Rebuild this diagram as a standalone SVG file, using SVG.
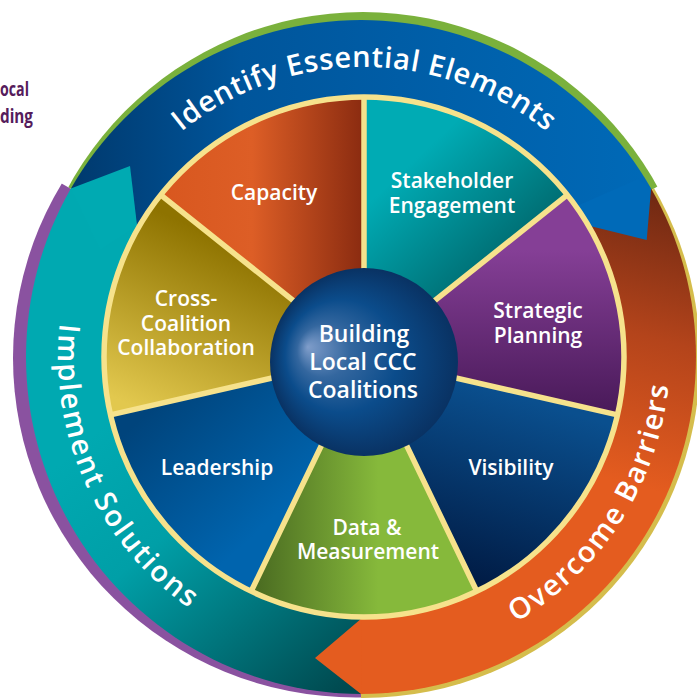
<svg xmlns="http://www.w3.org/2000/svg" width="697" height="698" viewBox="0 0 697 698">
<defs>
<style>
.seg{font-family:"Open Sans","Liberation Sans",sans-serif;font-weight:600;font-size:21px;fill:#fff;text-anchor:middle}
.ctr{font-family:"Open Sans","Liberation Sans",sans-serif;font-weight:600;font-size:23px;fill:#fff;text-anchor:middle}
.ring{font-family:"Open Sans","Liberation Sans",sans-serif;font-weight:600;font-size:29px;fill:#fff}
.side{font-family:"Open Sans","Liberation Sans",sans-serif;font-weight:700;font-size:20px;fill:#561c5c}
.spoke{stroke:#f6e28c;stroke-width:5.5;fill:none}
</style>
<linearGradient id="gBlue" gradientUnits="userSpaceOnUse" x1="60" y1="0" x2="660" y2="0">
<stop offset="0" stop-color="#00376a"/><stop offset="0.3" stop-color="#00559b"/><stop offset="1" stop-color="#006ab8"/>
</linearGradient>
<linearGradient id="gOrange" gradientUnits="userSpaceOnUse" x1="650" y1="185" x2="575" y2="470">
<stop offset="0" stop-color="#6c2712"/><stop offset="0.5" stop-color="#b4441b"/><stop offset="1" stop-color="#e45c1f"/>
</linearGradient>
<linearGradient id="gTeal" gradientUnits="userSpaceOnUse" x1="110" y1="420" x2="340" y2="690">
<stop offset="0" stop-color="#00a9b1"/><stop offset="0.35" stop-color="#009fa7"/><stop offset="1" stop-color="#004a50"/>
</linearGradient>
<linearGradient id="gCap" gradientUnits="userSpaceOnUse" x1="160" y1="0" x2="364" y2="0">
<stop offset="0" stop-color="#d8571f"/><stop offset="0.45" stop-color="#dd5e26"/><stop offset="1" stop-color="#8a2b10"/>
</linearGradient>
<linearGradient id="gStake" gradientUnits="userSpaceOnUse" x1="400" y1="130" x2="545" y2="285">
<stop offset="0.15" stop-color="#00abb4"/><stop offset="1" stop-color="#00575b"/>
</linearGradient>
<linearGradient id="gStrat" gradientUnits="userSpaceOnUse" x1="0" y1="250" x2="0" y2="410">
<stop offset="0" stop-color="#853f96"/><stop offset="1" stop-color="#4a1a5a"/>
</linearGradient>
<linearGradient id="gVis" gradientUnits="userSpaceOnUse" x1="530" y1="400" x2="470" y2="595">
<stop offset="0" stop-color="#0a4f8e"/><stop offset="1" stop-color="#001840"/>
</linearGradient>
<linearGradient id="gData" gradientUnits="userSpaceOnUse" x1="255" y1="0" x2="400" y2="0">
<stop offset="0" stop-color="#4a6b21"/><stop offset="0.85" stop-color="#86b93b"/>
</linearGradient>
<linearGradient id="gLead" gradientUnits="userSpaceOnUse" x1="150" y1="410" x2="260" y2="530">
<stop offset="0" stop-color="#00447c"/><stop offset="1" stop-color="#0064ae"/>
</linearGradient>
<linearGradient id="gCross" gradientUnits="userSpaceOnUse" x1="210" y1="235" x2="130" y2="405">
<stop offset="0" stop-color="#8e7300"/><stop offset="1" stop-color="#e2c84e"/>
</linearGradient>
<radialGradient id="gSphere" cx="0.5" cy="0.5" r="0.5" fx="0.2" fy="0.42">
<stop offset="0" stop-color="#7f9dca"/><stop offset="0.28" stop-color="#34679f"/><stop offset="0.6" stop-color="#0b4c8b"/><stop offset="1" stop-color="#093263"/>
</radialGradient>
<clipPath id="cGreen"><path d="M361 357 L-400 -84 L1128 -84 Z"/></clipPath>
<clipPath id="cPurple"><path d="M361 357 L361 1100 L-400 1100 L-400 -84 Z"/></clipPath>
<clipPath id="cYellow"><path d="M361 357 L1128 -84 L1128 1100 L361 1100 Z"/></clipPath>
<path id="pTop" d="M74 357 A290 290 0 0 1 654 357"/>
<path id="pRight" d="M196.6 616.7 A309 309 0 0 0 531.4 97.3"/>
<path id="pLeft" d="M237.6 78.3 A306 306 0 0 0 490.4 635.7"/>
</defs>

<g id="side-text">
<text class="side" x="0" y="96" textLength="29" lengthAdjust="spacingAndGlyphs">ocal</text>
<text class="side" x="0" y="123" textLength="33" lengthAdjust="spacingAndGlyphs">ding</text>
</g>

<g id="rims">
<ellipse cx="363" cy="352" rx="337" ry="340" fill="#7ab13c" clip-path="url(#cGreen)"/>
<ellipse cx="356" cy="358" rx="343" ry="339.5" fill="#8a52a0" clip-path="url(#cPurple)"/>
<ellipse cx="363" cy="359" rx="337" ry="339" fill="#d5bd4c" clip-path="url(#cYellow)"/>
</g>

<g id="connectors">
<g id="ribbon-identify">
<path d="M361 357 L70.9 188.5 A335 337 0 0 1 651.1 188.5 Z" fill="url(#gBlue)"/>
</g>
<g id="ribbon-overcome">
<path d="M361 357 L651.1 188.5 A335 337 0 0 1 361 694 Z" fill="url(#gOrange)"/>
</g>
<g id="ribbon-implement">
<path d="M361 357 L361 694 A335 337 0 0 1 70.9 188.5 Z" fill="url(#gTeal)"/>
</g>
<path id="tip-identify" d="M638 179 L651.1 188.5 L646.7 239.9 L590 226 L520 266 L500 240 Z" fill="#006ab8"/>
<path id="tip-overcome" d="M361 694 L315 658 L362 618 L366 560 L362 560 Z" fill="#e45c1f"/>
<path id="tip-implement" d="M70.9 188.5 L130 166.1 L137.1 226 L100 250 Z" fill="#00aab2"/>
</g>

<g id="ring-labels">
<text class="ring"><textPath href="#pTop" startOffset="50%" text-anchor="middle" textLength="395" lengthAdjust="spacing">Identify Essential Elements</textPath></text>
<text class="ring"><textPath href="#pRight" startOffset="50%" text-anchor="middle" textLength="292" lengthAdjust="spacing">Overcome Barriers</textPath></text>
<text class="ring"><textPath href="#pLeft" startOffset="50%" text-anchor="middle" textLength="328" lengthAdjust="spacing">Implement Solutions</textPath></text>
</g>

<g id="wheel">
<g id="seg-stakeholder"><path d="M364 357 L364 95 A262 262 0 0 1 568.84 193.65 Z" fill="url(#gStake)"/></g>
<g id="seg-strategic"><path d="M364 357 L568.84 193.65 A262 262 0 0 1 619.43 415.3 Z" fill="url(#gStrat)"/></g>
<g id="seg-visibility"><path d="M364 357 L619.43 415.3 A262 262 0 0 1 477.68 593.05 Z" fill="url(#gVis)"/></g>
<g id="seg-data"><path d="M364 357 L477.68 593.05 A262 262 0 0 1 250.32 593.05 Z" fill="url(#gData)"/></g>
<g id="seg-leadership"><path d="M364 357 L250.32 593.05 A262 262 0 0 1 108.57 415.3 Z" fill="url(#gLead)"/></g>
<g id="seg-cross"><path d="M364 357 L108.57 415.3 A262 262 0 0 1 159.16 193.65 Z" fill="url(#gCross)"/></g>
<g id="seg-capacity"><path d="M364 357 L159.16 193.65 A262 262 0 0 1 364 95 Z" fill="url(#gCap)"/></g>
<g id="spokes">
<circle cx="364" cy="357" r="260" class="spoke"/>
<path class="spoke" d="M364 357 L364 97 M364 357 L567.3 194.9 M364 357 L617.5 414.9 M364 357 L476.8 591.3 M364 357 L251.2 591.3 M364 357 L110.5 414.9 M364 357 L160.7 194.9"/>
</g>
</g>

<g id="center">
<circle cx="364" cy="362" r="94" fill="url(#gSphere)"/>
<text class="ctr" x="364" y="342">Building</text>
<text class="ctr" x="363" y="370">Local CCC</text>
<text class="ctr" x="363" y="398">Coalitions</text>
</g>

<g id="labels">
<text class="seg" x="274" y="200">Capacity</text>
<text class="seg" x="452" y="188">Stakeholder</text>
<text class="seg" x="452" y="213">Engagement</text>
<text class="seg" x="538" y="318">Strategic</text>
<text class="seg" x="538" y="343">Planning</text>
<text class="seg" x="186" y="306">Cross-</text>
<text class="seg" x="186" y="331">Coalition</text>
<text class="seg" x="186" y="355">Collaboration</text>
<text class="seg" x="217" y="475">Leadership</text>
<text class="seg" x="511" y="475">Visibility</text>
<text class="seg" x="367" y="535">Data &amp;</text>
<text class="seg" x="368" y="559">Measurement</text>
</g>
</svg>
